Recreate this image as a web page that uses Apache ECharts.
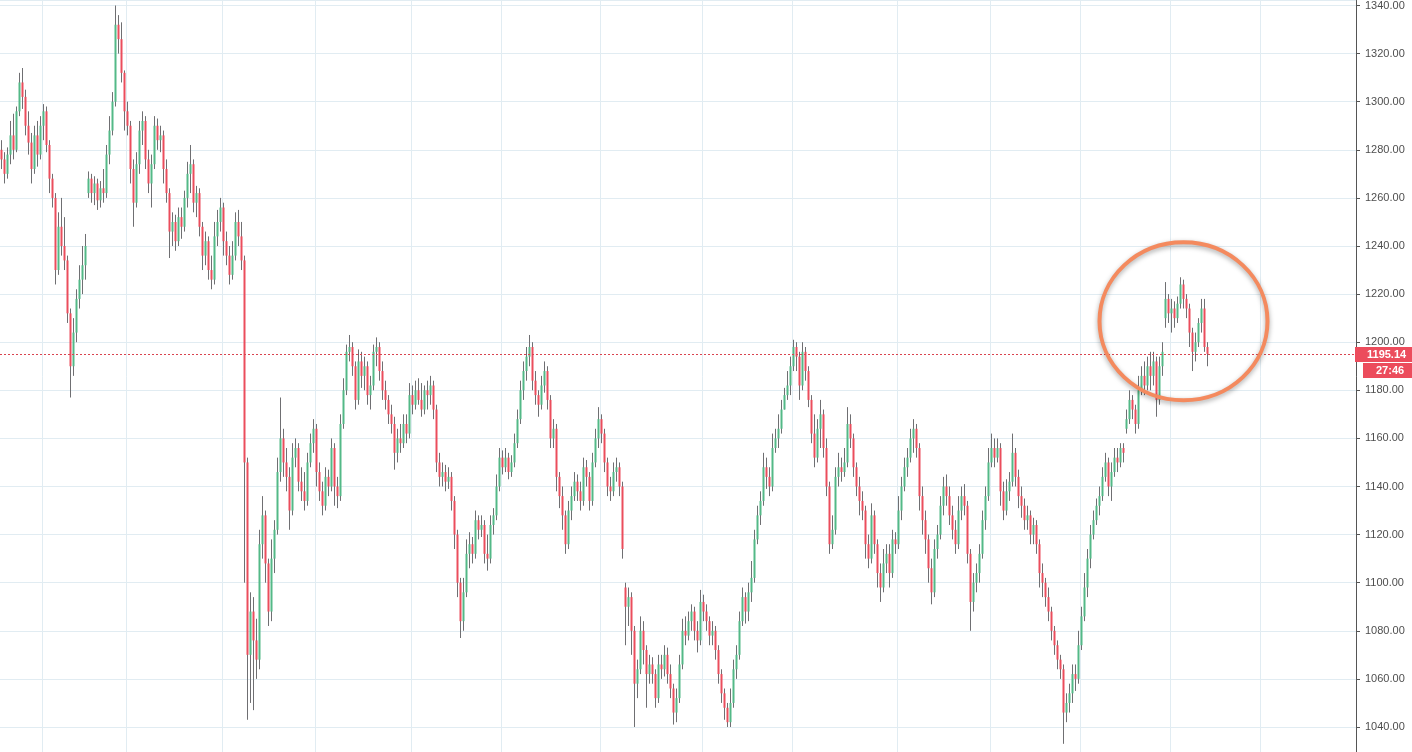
<!DOCTYPE html>
<html>
<head>
<meta charset="utf-8">
<script src="https://cdn.jsdelivr.net/npm/echarts@6/dist/echarts.min.js"></script>
<style>
html,body{margin:0;padding:0;background:#fff;}
#chart{width:1412px;height:752px;}
</style>
</head>
<body>
<div id="chart"></div>
<script>
// [open, close, low, high] per bar
const ohlc = [
[1280,1276,1272,1284],[1276,1270,1266,1279],[1270,1278,1268,1281],[1278,1286,1274,1292],[1286,1280,1276,1295],
[1280,1296,1279,1298],[1296,1308,1294,1312],[1308,1302,1297,1314],[1302,1290,1286,1305],[1290,1283,1278,1296],
[1283,1272,1266,1287],[1272,1286,1270,1290],[1286,1278,1273,1292],[1278,1290,1276,1294],[1290,1296,1284,1299],
[1296,1282,1279,1298],[1282,1268,1262,1284],[1268,1260,1256,1270],[1260,1230,1224,1262],[1230,1248,1228,1254],
[1248,1240,1236,1260],[1240,1234,1230,1252],[1234,1212,1208,1236],[1212,1190,1177,1214],[1190,1204,1186,1210],
[1204,1218,1200,1222],[1218,1226,1214,1232],[1226,1232,1220,1240],[1232,1240,1226,1245],[1262,1268,1260,1271],
[1268,1262,1258,1270],[1262,1266,1257,1269],[1266,1259,1255,1268],[1259,1264,1256,1267],[1264,1262,1258,1272],
[1262,1278,1260,1282],[1278,1288,1274,1294],[1288,1300,1286,1304],[1300,1332,1298,1340],[1332,1326,1320,1336],
[1326,1312,1308,1333],[1312,1296,1288,1313],[1296,1290,1286,1300],[1290,1272,1266,1292],[1272,1258,1248,1276],
[1258,1274,1256,1279],[1274,1288,1270,1292],[1288,1292,1282,1296],[1292,1276,1272,1294],[1276,1266,1262,1280],
[1266,1274,1256,1278],[1274,1290,1272,1294],[1290,1284,1280,1293],[1284,1286,1279,1290],[1286,1272,1266,1288],
[1272,1262,1258,1276],[1262,1246,1235,1264],[1246,1250,1240,1254],[1250,1242,1238,1253],[1242,1252,1240,1256],
[1252,1248,1243,1256],[1248,1260,1246,1263],[1260,1270,1256,1275],[1270,1274,1262,1282],[1274,1258,1254,1276],
[1258,1262,1252,1265],[1262,1248,1244,1264],[1248,1236,1230,1250],[1236,1242,1232,1246],[1242,1230,1226,1244],
[1230,1226,1222,1236],[1226,1244,1224,1250],[1244,1250,1240,1255],[1250,1256,1246,1260],[1256,1242,1236,1258],
[1242,1236,1232,1246],[1236,1228,1224,1240],[1228,1236,1226,1242],[1236,1250,1234,1254],[1250,1244,1240,1255],
[1244,1234,1230,1250],[1234,1150,1100,1236],[1150,1070,1043,1152],[1070,1088,1050,1096],[1088,1076,1047,1094],
[1076,1068,1060,1085],[1068,1116,1064,1122],[1116,1128,1110,1136],[1128,1108,1100,1130],[1108,1088,1082,1110],
[1088,1110,1084,1118],[1110,1122,1104,1126],[1122,1146,1120,1152],[1146,1160,1142,1177],[1160,1150,1144,1164],
[1150,1144,1138,1156],[1144,1130,1122,1148],[1130,1152,1128,1158],[1152,1156,1148,1160],[1156,1142,1138,1158],
[1142,1138,1134,1148],[1138,1134,1130,1146],[1134,1150,1132,1154],[1150,1158,1148,1162],[1158,1164,1154,1168],
[1164,1146,1140,1166],[1146,1138,1134,1150],[1138,1132,1128,1142],[1132,1144,1130,1148],[1144,1140,1136,1147],
[1140,1156,1138,1160],[1156,1140,1132,1158],[1140,1136,1131,1144],[1136,1166,1134,1170],[1166,1180,1164,1185],
[1180,1196,1178,1199],[1196,1198,1192,1203],[1198,1190,1186,1200],[1190,1176,1172,1192],[1176,1192,1174,1197],
[1192,1186,1181,1196],[1186,1190,1180,1194],[1190,1178,1174,1192],[1178,1182,1172,1186],[1182,1196,1180,1199],
[1196,1198,1190,1202],[1198,1188,1184,1200],[1188,1180,1176,1192],[1180,1176,1172,1184],[1176,1170,1166,1178],
[1170,1166,1162,1174],[1166,1154,1147,1169],[1154,1160,1150,1164],[1160,1158,1154,1166],[1158,1166,1156,1170],
[1166,1162,1158,1170],[1162,1178,1160,1183],[1178,1174,1170,1182],[1174,1180,1172,1184],[1180,1176,1174,1185],
[1176,1172,1169,1183],[1172,1180,1170,1182],[1180,1178,1172,1184],[1178,1182,1174,1186],[1182,1172,1168,1184],
[1172,1150,1146,1174],[1150,1144,1140,1154],[1144,1146,1140,1150],[1146,1142,1138,1149],[1142,1144,1139,1148],
[1144,1134,1130,1146],[1134,1120,1114,1136],[1120,1100,1094,1122],[1100,1084,1077,1102],[1084,1096,1080,1102],
[1096,1112,1094,1118],[1112,1116,1106,1121],[1116,1112,1108,1119],[1112,1126,1110,1130],[1126,1122,1118,1128],
[1122,1124,1119,1128],[1124,1112,1108,1126],[1112,1110,1105,1120],[1110,1124,1108,1128],[1124,1128,1120,1131],
[1128,1140,1126,1145],[1140,1152,1138,1156],[1152,1148,1145,1155],[1148,1152,1146,1156],[1152,1146,1143,1154],
[1146,1150,1144,1153],[1150,1158,1148,1162],[1158,1168,1156,1172],[1168,1180,1166,1184],[1180,1188,1176,1192],
[1188,1194,1184,1198],[1194,1198,1190,1203],[1198,1184,1180,1200],[1184,1178,1174,1188],[1178,1174,1169,1180],
[1174,1182,1172,1186],[1182,1188,1179,1192],[1188,1176,1172,1190],[1176,1160,1156,1178],[1160,1164,1156,1168],
[1164,1144,1138,1166],[1144,1136,1131,1146],[1136,1128,1122,1140],[1128,1116,1112,1130],[1116,1130,1114,1134],
[1130,1136,1126,1140],[1136,1142,1134,1146],[1142,1138,1134,1145],[1138,1134,1130,1142],[1134,1148,1132,1152],
[1148,1144,1140,1151],[1144,1134,1130,1146],[1134,1150,1132,1154],[1150,1160,1148,1164],[1160,1168,1156,1173],
[1168,1162,1158,1170],[1162,1150,1146,1164],[1150,1140,1136,1152],[1140,1138,1134,1144],[1138,1146,1136,1150],
[1146,1148,1142,1152],[1148,1140,1136,1150],[1140,1114,1110,1142],[1098,1090,1074,1100],[1090,1094,1082,1098],
[1094,1080,1070,1096],[1080,1058,1040,1082],[1058,1064,1052,1068],[1064,1080,1062,1086],[1080,1072,1066,1084],
[1072,1062,1048,1074],[1062,1066,1058,1070],[1066,1062,1058,1069],[1062,1052,1048,1064],[1052,1066,1050,1070],
[1066,1064,1060,1070],[1064,1070,1061,1074],[1070,1062,1058,1073],[1062,1056,1052,1066],[1056,1046,1041,1058],
[1046,1052,1042,1056],[1052,1066,1050,1070],[1066,1080,1064,1085],[1080,1078,1074,1086],[1078,1084,1076,1088],
[1084,1088,1080,1091],[1088,1080,1076,1090],[1080,1076,1071,1084],[1076,1092,1074,1097],[1092,1088,1084,1095],
[1088,1084,1080,1091],[1084,1078,1074,1086],[1078,1080,1074,1084],[1080,1072,1068,1082],[1072,1062,1058,1074],
[1062,1054,1050,1064],[1054,1048,1043,1056],[1048,1042,1040,1050],[1042,1050,1040,1056],[1050,1064,1048,1068],
[1064,1070,1060,1074],[1070,1084,1068,1088],[1084,1094,1082,1098],[1094,1088,1083,1096],[1088,1096,1084,1100],
[1096,1102,1092,1109],[1102,1118,1100,1122],[1118,1128,1116,1132],[1128,1134,1124,1138],[1134,1148,1132,1154],
[1148,1144,1139,1152],[1144,1140,1136,1148],[1140,1156,1138,1162],[1156,1160,1154,1164],[1160,1164,1156,1170],
[1164,1172,1162,1176],[1172,1178,1172,1181],[1178,1182,1176,1188],[1182,1190,1178,1194],[1190,1198,1188,1201],
[1198,1194,1188,1200],[1194,1182,1176,1196],[1182,1196,1180,1200],[1196,1188,1184,1198],[1188,1176,1173,1190],
[1176,1162,1158,1178],[1162,1152,1148,1170],[1152,1164,1150,1168],[1164,1170,1156,1176],[1170,1156,1152,1172],
[1156,1140,1136,1160],[1140,1116,1112,1142],[1116,1122,1114,1128],[1122,1144,1120,1148],[1144,1148,1140,1154],
[1148,1146,1142,1152],[1146,1150,1144,1156],[1150,1166,1148,1173],[1166,1160,1156,1170],[1160,1148,1144,1162],
[1148,1140,1136,1150],[1140,1134,1128,1144],[1134,1130,1126,1138],[1130,1116,1110,1132],[1116,1110,1106,1120],
[1110,1128,1108,1133],[1128,1116,1112,1130],[1116,1104,1098,1118],[1104,1098,1092,1108],[1098,1108,1096,1114],
[1108,1112,1104,1116],[1112,1104,1098,1116],[1104,1118,1102,1122],[1118,1116,1112,1121],[1116,1130,1114,1136],
[1130,1140,1126,1144],[1140,1148,1138,1152],[1148,1152,1144,1156],[1152,1160,1150,1164],[1160,1164,1154,1168],
[1164,1156,1152,1166],[1156,1136,1130,1158],[1136,1126,1120,1140],[1126,1118,1112,1130],[1118,1106,1100,1120],
[1106,1096,1091,1110],[1096,1114,1094,1118],[1114,1120,1110,1124],[1120,1132,1118,1136],[1132,1140,1128,1144],
[1140,1136,1132,1145],[1136,1128,1124,1140],[1128,1122,1118,1132],[1122,1116,1112,1126],[1116,1130,1114,1136],
[1130,1136,1126,1140],[1136,1132,1128,1141],[1132,1112,1108,1134],[1112,1092,1080,1114],[1092,1100,1088,1104],
[1100,1104,1096,1108],[1104,1112,1100,1116],[1112,1126,1110,1130],[1126,1136,1122,1140],[1136,1150,1134,1156],
[1150,1156,1148,1162],[1156,1152,1148,1160],[1152,1156,1150,1160],[1156,1138,1132,1158],[1138,1130,1126,1142],
[1130,1138,1128,1143],[1138,1142,1134,1146],[1142,1154,1140,1162],[1154,1144,1140,1156],[1144,1136,1131,1147],
[1136,1132,1127,1140],[1132,1126,1122,1135],[1126,1128,1122,1132],[1128,1120,1116,1130],[1120,1124,1116,1127],
[1124,1116,1112,1126],[1116,1104,1098,1118],[1104,1100,1094,1108],[1100,1094,1090,1102],[1094,1088,1084,1098],
[1088,1080,1076,1090],[1080,1074,1070,1082],[1074,1068,1064,1076],[1068,1064,1060,1070],[1064,1046,1033,1066],
[1046,1050,1042,1054],[1050,1054,1046,1058],[1054,1062,1050,1066],[1062,1060,1055,1066],[1060,1074,1058,1080],
[1074,1086,1072,1090],[1086,1098,1084,1104],[1098,1110,1094,1114],[1110,1120,1106,1124],[1120,1126,1118,1130],
[1126,1132,1124,1135],[1132,1136,1128,1140],[1136,1144,1134,1148],[1144,1150,1142,1154],[1150,1140,1136,1152],
[1140,1146,1134,1150],[1146,1152,1144,1156],[1152,1150,1146,1156],[1150,1156,1148,1158],[1156,1154,1150,1158],
[1164,1168,1162,1172],[1168,1176,1166,1180],[1176,1172,1168,1178],[1172,1166,1162,1174],[1166,1180,1164,1186],
[1180,1186,1178,1190],[1186,1182,1178,1192],[1182,1190,1180,1194],[1190,1186,1180,1196],[1186,1192,1182,1196],
[1192,1176,1169,1194],[1176,1190,1174,1194],[1190,1196,1186,1200],[1210,1218,1206,1225],[1218,1212,1208,1220],
[1212,1214,1204,1218],[1214,1210,1206,1217],[1210,1216,1208,1219],[1216,1224,1214,1227],[1224,1218,1214,1226],
[1218,1214,1210,1220],[1214,1204,1198,1216],[1204,1196,1188,1206],[1196,1200,1192,1204],[1200,1208,1198,1210],
[1208,1214,1204,1218],[1214,1198,1196,1218],[1198,1195.14,1190,1200]
];
const totalBars = 452;
const lastPrice = 1195.14;
const lastPriceText = '1195.14';
const countdownText = '27:46';
const sessionBreaks = [14, 42, 74, 105, 137, 167, 200, 234, 264, 299, 330, 360, 390, 420];
const categories = [];
for (let i = 0; i < totalBars; i++) categories.push('b' + i);

const wickData = categories.map((c, i) => i < ohlc.length ? ohlc[i] : '-');
const bodyData = categories.map((c, i) => {
  if (i >= ohlc.length) return '-';
  const d = ohlc[i];
  return [d[0], d[1], Math.min(d[0], d[1]), Math.max(d[0], d[1])];
});

const chart = echarts.init(document.getElementById('chart'), null, {renderer: 'canvas'});
const gridColor = '#e1ecf2';
chart.setOption({
  animation: false,
  backgroundColor: '#ffffff',
  grid: {left: 0, right: 56, top: 0, bottom: 0},
  xAxis: {
    type: 'category',
    data: categories,
    boundaryGap: true,
    axisLine: {show: false},
    axisTick: {show: false},
    axisLabel: {show: false},
    splitLine: {
      show: true,
      interval: function (idx) { return sessionBreaks.indexOf(idx) >= 0; },
      lineStyle: {color: gridColor, width: 1}
    }
  },
  yAxis: {
    type: 'value',
    position: 'right',
    min: 1029.6,
    max: 1342.1,
    splitNumber: 15,
    scale: true,
    axisLine: {show: true, lineStyle: {color: '#555555', width: 1}},
    axisTick: {show: true, length: 4, lineStyle: {color: '#555555'}},
    axisLabel: {
      show: true,
      margin: 9,
      color: '#4e4e4e',
      fontSize: 11,
      fontFamily: 'Liberation Sans, Arial, sans-serif',
      showMinLabel: false,
      showMaxLabel: false,
      formatter: v => v.toFixed(2)
    },
    splitLine: {show: true, lineStyle: {color: gridColor, width: 1}}
  },
  series: [
    {
      type: 'candlestick',
      data: wickData,
      barWidth: 1,
      clip: false,
      itemStyle: {color: '#6f6f72', color0: '#6f6f72', borderColor: '#6f6f72', borderColor0: '#6f6f72', borderWidth: 1}
    },
    {
      type: 'candlestick',
      data: bodyData,
      barWidth: 2,
      clip: false,
      itemStyle: {color: '#53b987', color0: '#eb4d5c', borderColor: '#53b987', borderColor0: '#eb4d5c', borderWidth: 0},
      markLine: {
        silent: true,
        symbol: ['none', 'none'],
        label: {show: false},
        lineStyle: {color: '#d9434f', type: [2, 2], width: 1},
        data: [{yAxis: lastPrice}]
      }
    }
  ]
});

const py = chart.convertToPixel({yAxisIndex: 0}, lastPrice);
const ctr = chart.convertToPixel({gridIndex: 0}, [394, 1208.7]);
chart.setOption({
  graphic: [
    {
      type: 'ellipse',
      shape: {cx: ctr[0], cy: ctr[1], rx: 84, ry: 79},
      style: {fill: 'none', stroke: '#f48a5e', lineWidth: 4, shadowBlur: 5, shadowOffsetY: 2, shadowColor: 'rgba(0,0,0,0.35)'},
      z: 100
    },
    {
      type: 'rect',
      shape: {x: 1355, y: Math.round(py) - 7, width: 57, height: 15},
      style: {fill: '#ec4c5c'},
      z: 100
    },
    {
      type: 'text',
      x: 1367, y: Math.round(py) + 0.5,
      style: {text: lastPriceText, fill: '#ffffff', font: 'bold 11px Liberation Sans, Arial, sans-serif', verticalAlign: 'middle', align: 'left'},
      z: 101
    },
    {
      type: 'rect',
      shape: {x: 1363, y: Math.round(py) + 9, width: 49, height: 15},
      style: {fill: '#ec4c5c'},
      z: 100
    },
    {
      type: 'text',
      x: 1376, y: Math.round(py) + 16.5,
      style: {text: countdownText, fill: '#ffffff', font: 'bold 11px Liberation Sans, Arial, sans-serif', verticalAlign: 'middle', align: 'left'},
      z: 101
    }
  ]
});
</script>
</body>
</html>
